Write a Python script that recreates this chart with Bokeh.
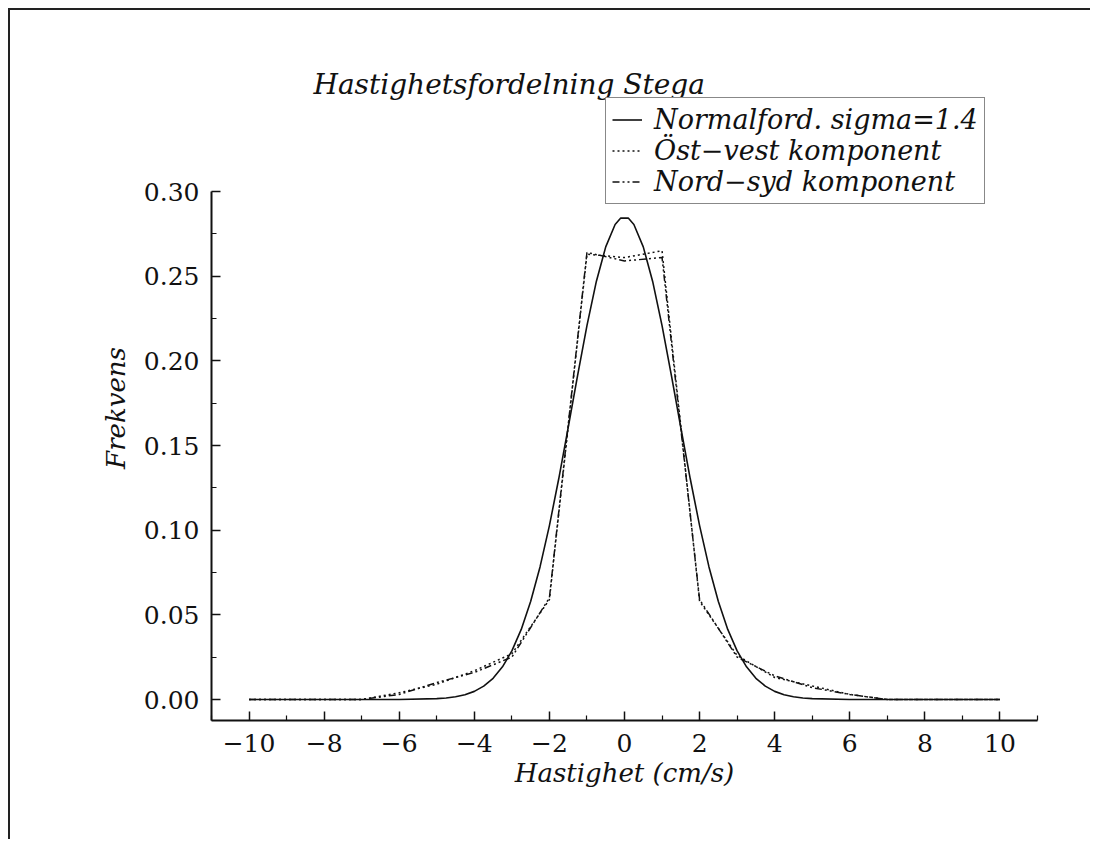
from bokeh.plotting import figure
from bokeh.models import Range1d, FixedTicker, Legend, LegendItem
from bokeh.embed import file_html
from bokeh.resources import INLINE

# ---------------- data ----------------
title_text = "Hastighetsfordelning Stega"
x_label = "Hastighet (cm/s)"
y_label = "Frekvens"

series_names = ["Normalford. sigma=1.4", "Öst\u2212vest komponent", "Nord\u2212syd komponent"]

norm_x = [-10, -8, -6, -5.0, -4.75, -4.5, -4.25, -4.0, -3.75, -3.5, -3.25, -3.0, -2.75, -2.5, -2.25,
          -2.0, -1.75, -1.5, -1.25, -1.0, -0.75, -0.5, -0.25, -0.1, 0.1, 0.25, 0.5, 0.75, 1.0, 1.25, 1.5,
          1.75, 2.0, 2.25, 2.5, 2.75, 3.0, 3.25, 3.5, 3.75, 4.0, 4.25, 4.5, 4.75, 5.0, 6, 8, 10]
norm_y = [0.0, 0.0, 0.0, 0.0005, 0.0009, 0.0016, 0.0028, 0.0048, 0.0079, 0.0125, 0.0193, 0.0287, 0.0414, 0.0579, 0.0783,
          0.1027, 0.1305, 0.1605, 0.1913, 0.2208, 0.2469, 0.2673, 0.2805, 0.2843, 0.2843, 0.2805, 0.2673, 0.2469, 0.2208, 0.1913, 0.1605,
          0.1305, 0.1027, 0.0783, 0.0579, 0.0414, 0.0287, 0.0193, 0.0125, 0.0079, 0.0048, 0.0028, 0.0016, 0.0009, 0.0005, 0.0, 0.0, 0.0]

comp_x = [-10, -9, -8, -7, -6, -5, -4, -3, -2, -1, 0, 1, 2, 3, 4, 5, 6, 7, 8, 9, 10]
ost_vest = [0.0, 0.0, 0.0, 0.000, 0.004, 0.009, 0.017, 0.027, 0.059, 0.263, 0.261, 0.265,
            0.058, 0.026, 0.013, 0.008, 0.003, 0.000, 0.0, 0.0, 0.0]
nord_syd = [0.0, 0.0, 0.0, 0.000, 0.003, 0.010, 0.016, 0.025, 0.060, 0.264, 0.259, 0.261,
            0.059, 0.025, 0.014, 0.007, 0.003, 0.000, 0.0, 0.0, 0.0]

x_ticks = [-10, -8, -6, -4, -2, 0, 2, 4, 6, 8, 10]
x_tick_labels = ["\u221210", "\u22128", "\u22126", "\u22124", "\u22122", "0", "2", "4", "6", "8", "10"]
x_minor = [-11, -9, -7, -5, -3, -1, 1, 3, 5, 7, 9, 11]
y_ticks = [0.0, 0.05, 0.10, 0.15, 0.20, 0.25, 0.30]
y_tick_labels = ["0.00", "0.05", "0.10", "0.15", "0.20", "0.25", "0.30"]
y_minor = [0.025, 0.075, 0.125, 0.175, 0.225, 0.275]

# ---------------- figure ----------------
SERIF = "DejaVu Serif"
INK = "#111111"

p = figure(width=1082, height=831,
           x_range=Range1d(-11, 11), y_range=Range1d(-0.0124, 0.3567),
           output_backend="svg", toolbar_location=None,
           min_border_left=201, min_border_right=55,
           min_border_top=85, min_border_bottom=121)
p.styles = {"margin-left": "8px", "margin-top": "8px",
            "border-top": "2px solid #222", "border-left": "2px solid #222"}

p.title.text = title_text
p.title.align = "left"
p.title.offset = 102
p.title.standoff = -11
p.title.text_font = SERIF
p.title.text_font_style = "italic"
p.title.text_font_size = "28px"
p.title.text_color = INK

p.xgrid.visible = False
p.ygrid.visible = False
p.outline_line_color = None
p.background_fill_color = "white"
p.border_fill_color = "white"

for ax in (p.xaxis[0], p.yaxis[0]):
    ax.axis_line_color = INK
    ax.axis_line_width = 2
    ax.major_tick_line_color = INK
    ax.minor_tick_line_color = INK
    ax.major_tick_line_width = 1.5
    ax.minor_tick_line_width = 1.2
    ax.major_tick_in = 9
    ax.major_tick_out = 0
    ax.minor_tick_in = 5
    ax.minor_tick_out = 0
    ax.major_label_text_font = SERIF
    ax.major_label_text_font_size = "25px"
    ax.major_label_text_color = INK
    ax.axis_label_text_font = SERIF
    ax.axis_label_text_font_style = "italic"
    ax.axis_label_text_font_size = "26px"
    ax.axis_label_text_color = INK

p.xaxis.ticker = FixedTicker(ticks=x_ticks, minor_ticks=x_minor)
p.xaxis.major_label_overrides = dict(zip(x_ticks, x_tick_labels))
p.xaxis.axis_label = x_label
p.xaxis.major_label_standoff = 13
p.xaxis.axis_label_standoff = 3

p.yaxis.ticker = FixedTicker(ticks=y_ticks, minor_ticks=y_minor)
p.yaxis.major_label_overrides = dict(zip(y_ticks, y_tick_labels))
p.yaxis.axis_label = y_label
p.yaxis.major_label_standoff = 12
p.yaxis.axis_label_standoff = 10
p.yaxis.bounds = (-0.0124, 0.30)

r_norm = p.line(norm_x, norm_y, line_color=INK, line_width=1.6)
r_ov = p.line(comp_x, ost_vest, line_color=INK, line_width=1.5, line_dash="2 3")
r_ns = p.line(comp_x, nord_syd, line_color=INK, line_width=1.5, line_dash="7 3 2 3 2 3")

legend = Legend(items=[LegendItem(label=series_names[0], renderers=[r_norm]),
                       LegendItem(label=series_names[1], renderers=[r_ov]),
                       LegendItem(label=series_names[2], renderers=[r_ns])],
                location=(394, 516))
legend.label_text_font = SERIF
legend.label_text_font_style = "italic"
legend.label_text_font_size = "27px"
legend.label_text_color = INK
legend.border_line_color = INK
legend.border_line_width = 1.5
legend.background_fill_color = "white"
legend.background_fill_alpha = 1.0
legend.glyph_width = 30
legend.glyph_height = 29
legend.label_height = 29
legend.label_standoff = 12
legend.spacing = 0
legend.padding = 6
legend.margin = 0
p.add_layout(legend, "center")

open("out.html", "w").write(file_html(p, INLINE))
